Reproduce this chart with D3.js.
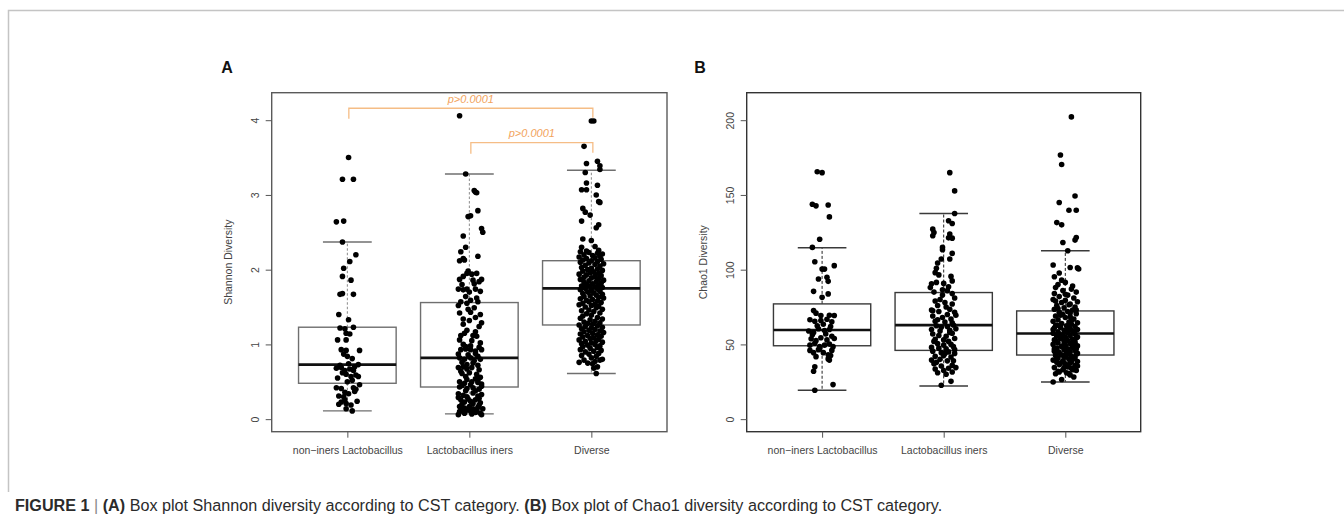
<!DOCTYPE html>
<html>
<head>
<meta charset="utf-8">
<script src="https://cdn.jsdelivr.net/npm/d3@7"></script>
<style>
  body { margin: 0; background: #fff; }
  svg { display: block; }
</style>
</head>
<body>
<svg id="fig" width="1344" height="521"></svg>
<script>
// ---- Data ----
const categories = ["non\u2212iners Lactobacillus", "Lactobacillus iners", "Diverse"];

const shannonLimits = [0, 4.2];
const shannonTicks = [0, 1, 2, 3, 4];
const chaoLimits = [0, 210];
const chaoTicks = [0, 50, 100, 150, 200];

// Box statistics per category: [lower whisker, Q1, median, Q3, upper whisker]
const shannonBoxes = [
  [0.11, 0.48, 0.73, 1.23, 2.37],
  [0.07, 0.43, 0.82, 1.56, 3.28],
  [0.61, 1.26, 1.75, 2.12, 3.33]
];
const chaoBoxes = [
  [19.3, 49.1, 59.6, 77.1, 114.7],
  [22.2, 46.0, 62.9, 84.7, 137.6],
  [24.9, 42.9, 57.3, 72.4, 112.7]
];

// Samples: [horizontal jitter in category units, value]
const shannonNonIners = [
  [0.01,3.50],[-0.04,3.21],[0.05,3.21],[-0.09,2.64],[-0.03,2.65],[-0.04,2.37],[0.07,2.20],[0.02,2.11],
  [-0.03,2.02],[-0.04,1.91],[0.03,1.86],[-0.06,1.67],[-0.04,1.68],[0.05,1.67],[-0.07,1.40],[0.01,1.33],
  [-0.06,1.22],[-0.02,1.21],[0.05,1.23],[-0.01,1.15],[0.02,1.14],[-0.08,1.06],[-0.01,1.06],[-0.05,0.93],
  [-0.01,0.92],[0.10,0.92],[-0.03,0.87],[0.00,0.84],[0.04,0.81],[0.09,0.73],[-0.09,0.68],[-0.05,0.69],
  [-0.02,0.65],[0.02,0.67],[0.05,0.65],[-0.04,0.62],[-0.01,0.60],[0.03,0.57],[0.07,0.59],[0.09,0.57],
  [0.04,0.52],[0.10,0.46],[-0.09,0.42],[-0.05,0.41],[-0.02,0.36],[0.05,0.42],[0.07,0.40],[-0.07,0.31],
  [-0.03,0.30],[0.01,0.34],[-0.05,0.23],[-0.07,0.20],[-0.01,0.21],[0.03,0.19],[-0.01,0.14],[0.04,0.11],
  [-0.06,0.72],[0.01,0.74],[0.06,0.70],[-0.08,0.55],[0.00,0.50],[0.06,0.37],[-0.02,0.26],[0.08,0.24]
];
const shannonIners = [
  [-0.08,4.06],[-0.03,3.28],[0.04,3.06],[0.05,3.04],[0.06,3.03],[0.07,2.79],[-0.01,2.71],[0.01,2.72],
  [0.10,2.55],[0.11,2.50],[-0.05,2.45],[-0.03,2.30],[-0.07,2.24],[-0.08,2.12],[-0.05,2.15],[0.07,2.18],
  [-0.04,2.13],[-0.02,1.95],[0.02,1.94],[0.06,1.95],[-0.08,1.87],[-0.05,1.91],[0.03,1.86],[0.08,1.84],
  [0.10,1.87],[-0.09,1.74],[-0.05,1.73],[-0.02,1.74],[0.05,1.74],[-0.07,1.57],[0.01,1.59],[-0.02,1.55],
  [0.07,1.57],[-0.08,1.42],[0.01,1.43],[0.05,1.36],[0.10,1.29],[-0.05,1.34],[0.00,1.32],[-0.04,1.15],
  [0.03,1.12],[0.06,1.11],[-0.08,1.06],[-0.05,1.00],[0.01,0.98],[0.08,0.96],[-0.07,0.93],[-0.03,0.94],
  [0.01,0.93],[0.05,0.91],[0.10,0.93],[-0.08,0.82],[-0.04,0.80],[0.01,0.82],[0.07,0.84],[0.09,0.80],
  [-0.06,0.76],[-0.02,0.73],[0.03,0.75],[0.07,0.72],[-0.09,0.69],[-0.02,0.67],[-0.06,0.61],[-0.03,0.57],
  [0.06,0.60],[0.09,0.56],[-0.08,0.50],[-0.04,0.48],[0.02,0.50],[0.07,0.49],[0.10,0.47],[-0.08,0.43],
  [-0.02,0.41],[0.03,0.42],[0.08,0.40],[-0.09,0.34],[-0.05,0.32],[-0.02,0.30],[0.03,0.35],[0.07,0.31],
  [0.10,0.33],[-0.07,0.26],[-0.04,0.23],[0.01,0.24],[0.05,0.26],[0.09,0.22],[-0.08,0.17],[-0.04,0.15],
  [0.00,0.17],[0.03,0.14],[0.07,0.16],[0.11,0.14],[-0.08,0.10],[-0.04,0.08],[0.01,0.11],[0.05,0.09],
  [0.09,0.08],[-0.09,0.06],[0.10,0.06],[-0.01,1.98],[0.04,1.81],[-0.06,1.80],[0.09,1.71],[0.00,1.70],
  [-0.03,1.64],[0.06,1.62],[-0.09,1.52],[0.04,1.49],[-0.01,1.47],[0.09,1.40],[-0.05,1.27],[0.08,1.24],
  [-0.02,1.19],[0.05,1.17],[-0.07,1.12],[0.02,1.05],[0.09,1.02],[-0.03,0.97],[0.05,0.88],[-0.09,0.87],
  [-0.01,0.86],[0.04,0.78],[-0.05,0.70],[0.02,0.69],[0.08,0.66],[-0.07,0.64],[0.00,0.62],[0.05,0.54],
  [-0.02,0.53],[0.07,0.52],[-0.06,0.45],[0.01,0.46],[0.10,0.44],[-0.03,0.38],[0.05,0.38],[-0.09,0.29],
  [0.08,0.28],[-0.01,0.27],[-0.06,0.20],[0.03,0.21],[0.08,0.19],[-0.02,0.12],[0.06,0.12],[-0.06,0.13],
  [0.02,0.07]
];
const shannonDiverse = [
  [0.00,3.99],[0.02,3.99],[-0.06,3.65],[-0.04,3.42],[0.05,3.45],[0.07,3.39],[-0.05,3.30],[0.07,3.34],
  [-0.04,3.16],[0.05,3.13],[-0.08,3.07],[-0.04,3.07],[0.04,3.00],[0.07,2.90],[0.06,2.91],[-0.07,2.82],
  [-0.05,2.77],[-0.01,2.73],[-0.08,2.65],[0.06,2.60],[0.04,2.56],[-0.07,2.41],[0.00,2.39],[-0.08,2.30],
  [-0.04,2.25],[0.03,2.31],[0.06,2.26],
  [-0.09,2.24],[-0.02,2.23],[0.05,2.22],[0.09,2.21],[-0.06,2.20],[0.01,2.19],[0.07,2.18],[-0.10,2.17],
  [0.03,2.16],[-0.04,2.15],[0.08,2.14],[-0.07,2.13],[0.00,2.12],[0.05,2.11],[-0.09,2.10],[-0.02,2.09],
  [0.10,2.08],[0.03,2.07],[-0.05,2.06],[0.07,2.05],[-0.08,2.03],[0.00,2.02],[0.05,2.01],[-0.03,2.00],
  [0.09,1.99],[-0.07,1.98],[0.02,1.97],[-0.01,1.96],[0.06,1.95],[-0.10,1.94],[-0.04,1.93],[0.08,1.92],
  [0.03,1.91],[-0.06,1.90],[0.00,1.89],[0.06,1.88],[-0.09,1.87],[0.10,1.86],[-0.02,1.85],[0.04,1.84],
  [-0.06,1.83],[0.08,1.82],[0.01,1.81],[-0.04,1.80],[0.06,1.79],[-0.08,1.78],[-0.01,1.78],[0.03,1.77],
  [0.09,1.76],[-0.05,1.75],[0.05,1.74],[-0.09,1.73],[0.00,1.72],[0.07,1.71],[-0.03,1.70],[0.02,1.69],
  [-0.07,1.68],[0.09,1.67],[0.04,1.66],[-0.01,1.65],[-0.06,1.64],[0.06,1.63],[0.10,1.62],[-0.09,1.61],
  [0.01,1.60],[-0.04,1.59],[0.05,1.58],[-0.02,1.57],[0.08,1.56],[-0.07,1.55],[0.03,1.54],[-0.10,1.53],
  [0.00,1.52],[0.06,1.51],[-0.05,1.50],[0.04,1.49],[0.09,1.47],[-0.02,1.46],[-0.08,1.45],[0.02,1.44],
  [0.07,1.42],[-0.04,1.41],[0.00,1.39],[-0.07,1.38],[0.05,1.36],[-0.09,1.35],[0.09,1.34],[-0.01,1.33],
  [0.03,1.31],[-0.06,1.30],[0.07,1.29],[-0.03,1.28],[0.01,1.27],[-0.10,1.26],[0.05,1.25],[-0.05,1.24],
  [0.09,1.23],[0.00,1.22],[-0.08,1.21],[0.03,1.20],[-0.02,1.19],[0.07,1.18],[-0.06,1.17],[0.10,1.16],
  [0.01,1.15],[-0.09,1.14],[0.05,1.13],[-0.03,1.12],[0.08,1.11],[-0.07,1.10],[0.02,1.09],[-0.01,1.08],
  [0.06,1.07],[-0.10,1.06],[0.04,1.05],[-0.05,1.04],[0.09,1.03],[0.00,1.02],[-0.08,1.01],[0.03,1.00],
  [-0.03,0.99],[0.07,0.98],[-0.07,0.97],[0.05,0.96],[-0.01,0.95],[-0.09,0.93],[0.08,0.92],[0.02,0.91],
  [-0.05,0.90],[0.06,0.88],[-0.02,0.87],[-0.08,0.85],[0.04,0.84],[0.00,0.82],[0.09,0.80],[-0.06,0.79],
  [0.03,0.77],[-0.10,0.76],[-0.03,0.75],[0.07,0.79],[0.01,0.74],[0.05,0.70],[0.02,0.68],[0.04,0.61]
];

const chaoNonIners = [
  [-0.04,165.5],[0.00,164.9],[-0.08,143.8],[-0.05,142.7],[0.05,143.3],[0.06,135.3],[-0.02,120.4],
  [-0.08,114.9],[-0.06,105.3],[0.00,100.4],[0.02,100.4],[0.10,102.7],[-0.03,93.8],[0.04,94.9],[0.05,92.2],
  [-0.07,85.5],[0.00,81.5],[0.05,83.8],[-0.07,72.7],[-0.05,70.9],[-0.01,69.3],[0.06,69.5],[0.10,69.3],
  [-0.10,66.5],[-0.06,65.5],[-0.01,66.0],[0.04,66.8],[0.08,65.2],[-0.11,59.0],[-0.07,58.0],[-0.03,60.5],
  [0.02,59.3],[0.06,60.0],[-0.09,53.8],[-0.05,52.5],[-0.01,54.5],[0.04,53.0],[0.08,55.5],[0.10,54.0],
  [-0.10,49.5],[-0.06,50.8],[-0.02,48.5],[0.02,49.5],[0.06,50.2],[0.09,48.5],[-0.10,46.0],[-0.07,44.5],
  [-0.03,46.5],[0.01,44.5],[0.05,43.0],[0.08,46.0],[0.05,40.3],[0.06,39.5],[-0.06,35.0],[-0.07,32.0],
  [0.09,23.1],[-0.06,19.3],[-0.04,62.5],[0.01,63.5],[0.07,62.0],[-0.08,56.5],[0.03,57.0],[-0.02,47.0],
  [0.07,42.5],[-0.05,41.8]
];
const chaoIners = [
  [0.05,164.9],[0.09,152.7],[0.09,137.6],[0.04,132.7],[0.07,130.9],[-0.09,127.1],[-0.09,122.7],[-0.08,124.9],
  [0.05,123.8],[0.07,121.1],[0.04,121.3],[-0.01,114.9],[-0.01,113.3],[0.07,110.9],[0.05,107.1],[-0.02,107.1],
  [-0.05,104.5],[-0.06,101.0],[-0.07,98.0],[-0.06,91.5],[-0.10,90.5],[0.00,90.8],[0.07,92.5],[-0.08,85.0],
  [-0.01,83.0],[0.03,86.0],[0.07,84.0],[-0.05,76.0],[0.02,75.0],[0.07,77.0],[-0.09,69.0],[-0.01,68.0],
  [0.06,67.0],[0.10,69.5],[-0.06,62.5],[-0.02,61.5],[0.03,62.0],[0.08,63.0],[-0.09,57.0],[-0.04,56.0],
  [0.02,55.5],[0.07,57.5],[-0.05,50.5],[0.00,49.5],[0.06,50.0],[-0.09,45.5],[-0.02,44.5],[0.04,45.0],
  [0.09,44.0],[-0.03,40.0],[0.03,39.0],[-0.08,37.0],[0.07,36.0],[-0.05,31.0],[0.02,30.0],[0.06,25.3],
  [-0.02,22.7],[-0.11,88.0],[0.04,88.5],[-0.03,80.0],[0.09,81.0],[-0.07,79.0],[0.01,78.0],[-0.10,73.0],
  [-0.04,72.0],[0.05,73.5],[0.09,71.5],[-0.07,65.5],[0.01,65.0],[0.07,64.5],[-0.10,60.0],[-0.03,59.0],
  [0.05,59.5],[0.10,60.5],[-0.07,53.5],[0.00,53.0],[0.04,52.0],[0.09,54.0],[-0.10,48.0],[-0.04,47.5],
  [0.02,47.0],[0.08,48.5],[-0.07,42.0],[0.00,42.5],[0.06,41.5],[-0.10,39.5],[0.08,39.0],[-0.02,35.5],
  [0.04,34.0],[-0.07,33.5],[0.10,34.5],[0.00,32.5],[0.07,31.5],[-0.09,72.5],[0.03,70.0],[-0.05,66.5],
  [0.05,58.0],[-0.08,52.0],[0.01,44.0],[-0.06,38.0],[0.09,46.5],[-0.01,86.5],[0.06,95.5],[-0.04,96.5]
];
const chaoDiverse = [
  [0.05,202.2],[-0.04,176.7],[-0.03,170.4],[-0.05,144.9],[0.08,149.3],[0.03,139.8],[0.09,139.8],[-0.07,131.5],
  [-0.03,130.0],[0.09,121.5],[0.08,119.8],[-0.02,118.2],[0.02,112.7],[-0.10,103.1],[0.10,101.2],[0.04,101.5],
  [0.11,100.5],[-0.05,97.8],[-0.09,95.3],[0.00,91.5],[-0.06,90.0],[-0.08,88.0],
  [0.05,87.0],[-0.02,86.0],[0.09,85.0],[-0.09,84.0],[0.02,83.0],[-0.05,82.0],[0.07,81.0],[-0.10,80.0],
  [0.00,79.5],[0.10,78.5],[-0.03,78.0],[0.04,77.0],[-0.07,76.0],[0.08,75.0],[-0.01,74.5],[-0.09,73.5],
  [0.06,73.0],[0.02,72.0],[-0.05,71.5],[0.09,70.5],[-0.02,70.0],[-0.08,69.0],[0.04,68.5],[0.00,68.0],
  [0.07,67.0],[-0.06,66.5],[-0.10,65.5],[0.03,65.0],[0.10,64.5],[-0.03,64.0],[0.05,63.5],[-0.07,63.0],
  [0.01,62.5],[0.08,62.0],[-0.04,61.5],[-0.09,61.0],[0.04,60.5],[0.10,60.0],[-0.01,59.5],[0.06,59.0],
  [-0.06,58.5],[0.02,58.0],[-0.10,57.5],[0.08,57.0],[-0.02,56.5],[0.04,56.0],[-0.07,55.5],[0.00,55.0],
  [0.09,54.5],[-0.04,54.0],[0.06,53.5],[-0.09,53.0],[0.02,52.5],[-0.01,52.0],[0.08,51.5],[-0.06,51.0],
  [0.04,50.5],[-0.10,50.0],[0.00,49.5],[0.10,49.0],[-0.03,48.5],[0.06,48.0],[-0.07,47.5],[0.02,47.0],
  [-0.01,46.5],[0.08,46.0],[-0.09,45.5],[0.04,45.0],[-0.05,44.5],[0.01,44.0],[0.09,43.5],[-0.03,43.0],
  [-0.08,42.5],[0.05,42.0],[0.00,41.5],[-0.06,41.0],[0.07,40.5],[0.03,40.0],[-0.10,39.5],[-0.02,39.0],
  [0.10,38.5],[-0.07,38.0],[0.04,37.5],[0.00,37.0],[-0.05,36.5],[0.08,36.0],[0.02,35.0],[-0.09,34.5],
  [0.05,34.0],[-0.02,33.0],[0.09,32.5],[-0.06,32.0],[0.01,31.0],[-0.08,30.4],[0.07,28.2],[-0.10,24.9],
  [0.04,29.5],[-0.03,26.5],[-0.08,79.0],[0.03,76.5],[0.09,73.0],[-0.04,69.5],[0.05,66.0],[-0.08,62.5],
  [0.02,61.0],[0.07,58.5],[-0.05,57.0],[0.01,53.5],[-0.08,52.5],[0.06,50.0],[-0.02,49.0],[0.09,47.0],
  [-0.06,45.0],[0.03,43.5],[-0.01,42.0],[0.08,41.0],[-0.07,40.0],[0.05,38.5],[-0.04,37.5],[0.10,35.5],
  [-0.01,34.5],[0.06,33.0],[-0.05,31.5],[0.03,30.5],[-0.10,60.0],[0.10,55.0],[-0.09,47.0],[0.10,44.0],
  [0.04,71.0],[-0.06,74.0],[0.00,83.5],[0.06,89.0],[-0.03,93.0]
];

// Pairwise comparisons on the Shannon panel: [from, to, bar height, leg end, label]
const shannonComparisons = [
  [0, 2, 4.16, 4.02, "p>0.0001"],
  [1, 2, 3.70, 3.55, "p>0.0001"]
];

// ---- Drawing ----
const svg = d3.select("#fig");
const FONT = "'Liberation Sans', Arial, Helvetica, sans-serif";

// outer figure frame
svg.append("path")
  .attr("d", "M8.5,492 V10.5 H1344")
  .attr("fill", "none").attr("stroke", "#c4c4c4").attr("stroke-width", 1.5);

function drawPanel(opt) {
  const g = svg.append("g");
  const n = categories.length;
  const x = d3.scaleLinear()
    .domain([0.5 - 0.04 * n, n + 0.5 + 0.04 * n])
    .range([opt.left, opt.right]);
  const span = opt.limits[1] - opt.limits[0];
  const y = d3.scaleLinear()
    .domain([opt.limits[0] - 0.04 * span, opt.limits[1] + 0.04 * span])
    .range([opt.bottom, opt.top]);

  const boxHalf = x(1.4) - x(1);
  const capHalf = boxHalf / 2;

  // boxes
  opt.boxes.forEach((b, i) => {
    const cx = x(i + 1);
    const [lo, q1, med, q3, hi] = b;
    // whiskers
    g.append("line").attr("x1", cx).attr("x2", cx).attr("y1", y(q3)).attr("y2", y(hi))
      .attr("stroke", opt.whiskerColor).attr("stroke-width", 1).attr("stroke-dasharray", opt.dash);
    g.append("line").attr("x1", cx).attr("x2", cx).attr("y1", y(q1)).attr("y2", y(lo))
      .attr("stroke", opt.whiskerColor).attr("stroke-width", 1).attr("stroke-dasharray", opt.dash);
    // staples
    [lo, hi].forEach(v => {
      g.append("line").attr("x1", cx - capHalf).attr("x2", cx + capHalf)
        .attr("y1", y(v)).attr("y2", y(v))
        .attr("stroke", opt.boxColor).attr("stroke-width", 1.4);
    });
    g.append("rect")
      .attr("x", cx - boxHalf).attr("width", 2 * boxHalf)
      .attr("y", y(q3)).attr("height", y(q1) - y(q3))
      .attr("fill", "none").attr("stroke", opt.boxColor).attr("stroke-width", 1.4);
    g.append("line").attr("x1", cx - boxHalf).attr("x2", cx + boxHalf)
      .attr("y1", y(med)).attr("y2", y(med))
      .attr("stroke", "#111").attr("stroke-width", 2.6);
  });

  // jittered samples
  opt.samples.forEach((arr, i) => {
    g.append("g").selectAll("circle").data(arr).join("circle")
      .attr("cx", d => x(i + 1 + d[0]))
      .attr("cy", d => y(d[1]))
      .attr("r", 2.8)
      .attr("fill", "#000");
  });

  // plot frame
  g.append("rect")
    .attr("x", opt.left).attr("y", opt.top)
    .attr("width", opt.right - opt.left).attr("height", opt.bottom - opt.top)
    .attr("fill", "none").attr("stroke", opt.frameColor).attr("stroke-width", 1.4);

  // y axis
  const ya = g.append("g").attr("transform", `translate(${opt.left},0)`)
    .call(d3.axisLeft(y).tickValues(opt.ticks).tickSize(6).tickFormat(d3.format("d")));
  ya.select(".domain").remove();
  ya.selectAll(".tick line").attr("stroke", "#555").attr("stroke-width", 1);
  ya.selectAll(".tick text")
    .attr("transform", "rotate(-90)")
    .attr("x", 0).attr("y", -13).attr("dy", 0)
    .attr("text-anchor", "middle")
    .attr("fill", "#444").attr("font-size", 10.5).attr("font-family", FONT);

  // x axis
  const xa = g.append("g").attr("transform", `translate(0,${opt.bottom})`)
    .call(d3.axisBottom(x).tickValues(d3.range(1, n + 1)).tickSize(6)
      .tickFormat(d => categories[d - 1]));
  xa.select(".domain").remove();
  xa.selectAll(".tick line").attr("stroke", "#555").attr("stroke-width", 1);
  xa.selectAll(".tick text")
    .attr("y", 22.8).attr("dy", 0)
    .attr("fill", "#444").attr("font-size", 10.5).attr("font-family", FONT);

  // axis title
  g.append("text")
    .attr("transform", `translate(${opt.left - 43},${(opt.top + opt.bottom) / 2}) rotate(-90)`)
    .attr("text-anchor", "middle").attr("dy", "0.35em")
    .attr("fill", "#444").attr("font-size", 10.5).attr("font-family", FONT)
    .text(opt.title);

  // panel letter
  svg.append("text")
    .attr("x", opt.letterX).attr("y", 73)
    .attr("text-anchor", "middle")
    .attr("font-weight", "bold").attr("font-size", 16).attr("font-family", FONT)
    .attr("fill", "#111")
    .text(opt.letter);

  // comparisons
  (opt.comparisons || []).forEach(c => {
    const [a, b, top, leg, label] = c;
    const x1 = x(a + 1) + 1.5, x2 = x(b + 1) + 1.5;
    g.append("path")
      .attr("d", `M${x1},${y(leg)} V${y(top)} H${x2} V${y(leg) - 1}`)
      .attr("fill", "none").attr("stroke", "#f5bd86").attr("stroke-width", 1.3);
    g.append("text")
      .attr("x", (x1 + x2) / 2).attr("y", y(top) - 5.5)
      .attr("text-anchor", "middle")
      .attr("font-style", "italic").attr("font-size", 11).attr("font-family", FONT)
      .attr("fill", "#f2a35c")
      .text(label);
  });
}

drawPanel({
  left: 271.7, right: 667, top: 92.7, bottom: 431.7,
  limits: shannonLimits, ticks: shannonTicks, boxes: shannonBoxes,
  samples: [shannonNonIners, shannonIners, shannonDiverse],
  title: "Shannon Diversity", letter: "A", letterX: 227,
  boxColor: "#6f6f6f", whiskerColor: "#8a8a8a", dash: "2.5,2", frameColor: "#5a5a5a",
  comparisons: shannonComparisons
});

drawPanel({
  left: 746.7, right: 1140.7, top: 92.7, bottom: 431.7,
  limits: chaoLimits, ticks: chaoTicks, boxes: chaoBoxes,
  samples: [chaoNonIners, chaoIners, chaoDiverse],
  title: "Chao1 Diversity", letter: "B", letterX: 700,
  boxColor: "#3a3a3a", whiskerColor: "#222", dash: "3,2", frameColor: "#333"
});

// caption: a narrow face is emulated by a horizontal squeeze of the whole line
const capG = svg.append("g");
const cap = capG.append("text")
  .attr("x", 0).attr("y", 0)
  .attr("font-family", FONT)
  .attr("font-size", 17).attr("fill", "#2b2b2b");
cap.append("tspan").attr("font-weight", "bold").text("FIGURE 1");
cap.append("tspan").attr("fill", "#888").text(" | ");
cap.append("tspan").attr("font-weight", "bold").text("(A)");
cap.append("tspan").text(" Box plot Shannon diversity according to CST category. ");
cap.append("tspan").attr("font-weight", "bold").text("(B)");
cap.append("tspan").text(" Box plot of Chao1 diversity according to CST category.");
const capWidth = cap.node().getComputedTextLength();
capG.attr("transform", `translate(15,511) scale(${928 / capWidth},1)`);
</script>
</body>
</html>
